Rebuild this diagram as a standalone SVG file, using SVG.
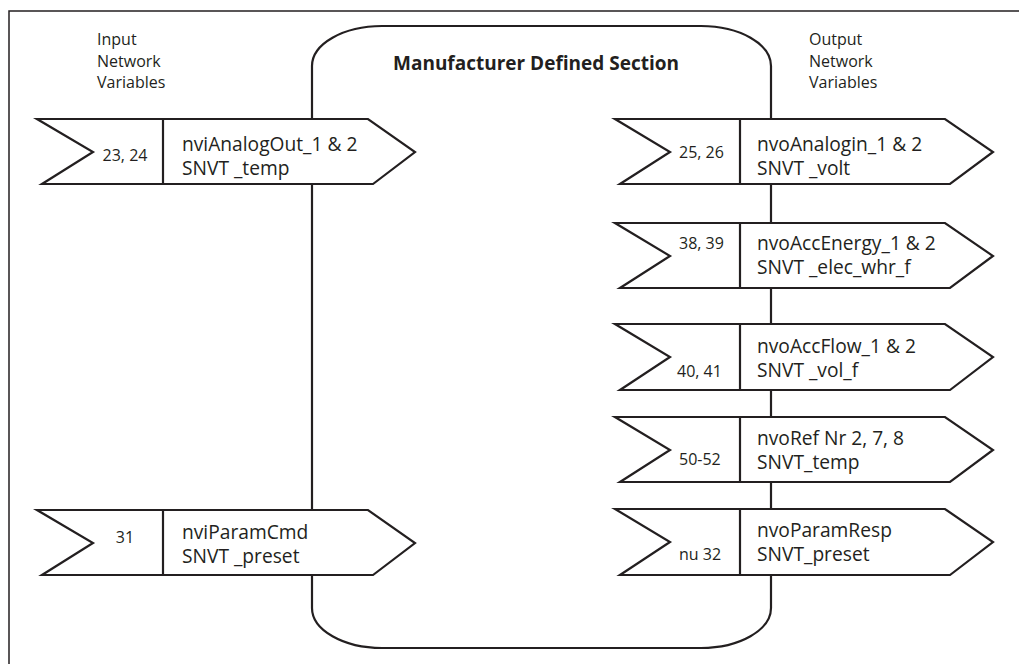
<svg xmlns="http://www.w3.org/2000/svg" width="1019" height="664" viewBox="0 0 1019 664">
<style>
.ln{fill:none;stroke:#231f20;stroke-width:2.2;stroke-linejoin:miter}
.ar{fill:#fff;stroke:#231f20;stroke-width:2.2;stroke-linejoin:miter}
.fr{fill:none;stroke:#231f20;stroke-width:1.5}
text{font-family:"Open Sans","Noto Sans","Liberation Sans",sans-serif;fill:#231f20}
.hd{font-size:16px}
.ti{font-size:19px;font-weight:bold}
.lb{font-size:19.2px}
.nm{font-size:16px}
</style>
<rect width="1019" height="664" fill="#fff"/>
<g id="frame"><path class="fr" d="M9,664 L9,11 L1019,11"/></g>
<g id="section">
<path class="ln" d="M312,66 A70,40 0 0 1 382,26 L701,26 A70,40 0 0 1 771,66 L771,608 A70,40 0 0 1 701,648 L382,648 A70,40 0 0 1 312,608 Z"/>
<text class="ti" x="536" y="70" text-anchor="middle">Manufacturer Defined Section</text>
</g>
<g id="input-header">
<text class="hd" x="97" y="45">Input</text>
<text class="hd" x="97" y="67">Network</text>
<text class="hd" x="97" y="88">Variables</text>
</g>
<g id="output-header">
<text class="hd" x="809" y="45">Output</text>
<text class="hd" x="809" y="67">Network</text>
<text class="hd" x="809" y="88">Variables</text>
</g>
<g id="nvi-analogout">
<polygon class="ar" points="37,119 368,119 415,152 373,184 42,184 93,152"/>
<line class="ln" x1="163" y1="119" x2="163" y2="184"/>
<text class="nm" x="125" y="161" text-anchor="middle">23, 24</text>
<text class="lb" x="182" y="151">nviAnalogOut_1 &amp; 2</text>
<text class="lb" x="182" y="175">SNVT _temp</text>
</g>
<g id="nvi-paramcmd">
<polygon class="ar" points="37,510 368,510 415,543 373,575 42,575 93,543"/>
<line class="ln" x1="163" y1="510" x2="163" y2="575"/>
<text class="nm" x="125" y="543" text-anchor="middle">31</text>
<text class="lb" x="182" y="539">nviParamCmd</text>
<text class="lb" x="182" y="563">SNVT _preset</text>
</g>
<g id="nvo-analogin">
<polygon class="ar" points="615,119 945,119 993,152 950,184 620,184 670,152"/>
<line class="ln" x1="740" y1="119" x2="740" y2="184"/>
<text class="nm" x="679" y="158">25, 26</text>
<text class="lb" x="757" y="151">nvoAnalogin_1 &amp; 2</text>
<text class="lb" x="757" y="175">SNVT _volt</text>
</g>
<g id="nvo-accenergy">
<polygon class="ar" points="615,223 945,223 993,256 950,288 620,288 670,256"/>
<line class="ln" x1="740" y1="223" x2="740" y2="288"/>
<text class="nm" x="679" y="249">38, 39</text>
<text class="lb" x="757" y="250">nvoAccEnergy_1 &amp; 2</text>
<text class="lb" x="757" y="274">SNVT _elec_whr_f</text>
</g>
<g id="nvo-accflow">
<polygon class="ar" points="615,324 945,324 993,357 950,390 620,390 670,357"/>
<line class="ln" x1="740" y1="324" x2="740" y2="390"/>
<text class="nm" x="677" y="377">40, 41</text>
<text class="lb" x="757" y="353">nvoAccFlow_1 &amp; 2</text>
<text class="lb" x="757" y="377">SNVT _vol_f</text>
</g>
<g id="nvo-ref">
<polygon class="ar" points="615,417 945,417 993,450 950,482 620,482 670,450"/>
<line class="ln" x1="740" y1="417" x2="740" y2="482"/>
<text class="nm" x="679" y="465">50-52</text>
<text class="lb" x="757" y="445">nvoRef Nr 2, 7, 8</text>
<text class="lb" x="757" y="469">SNVT_temp</text>
</g>
<g id="nvo-paramresp">
<polygon class="ar" points="615,509 945,509 993,542 950,575 620,575 670,542"/>
<line class="ln" x1="740" y1="509" x2="740" y2="575"/>
<text class="nm" x="679" y="560">nu 32</text>
<text class="lb" x="757" y="537">nvoParamResp</text>
<text class="lb" x="757" y="561">SNVT_preset</text>
</g>
</svg>
